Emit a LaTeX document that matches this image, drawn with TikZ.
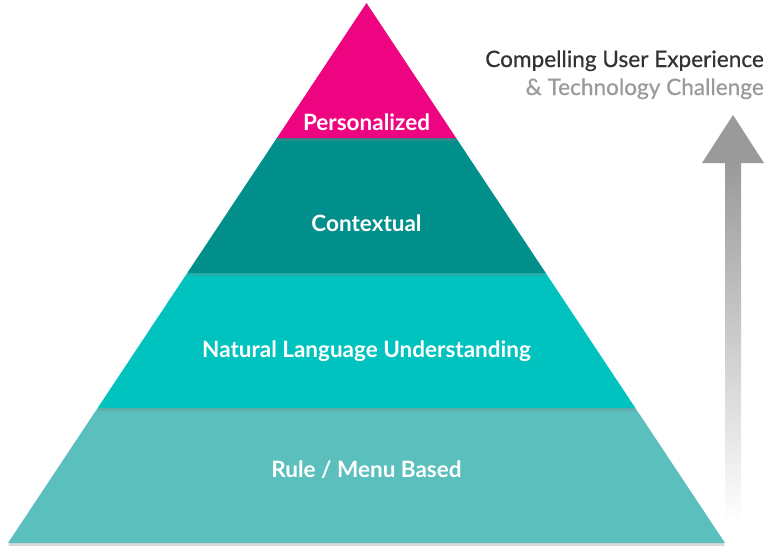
\documentclass[tikz,border=0pt]{standalone}
\usepackage{fontspec}
\setmainfont{Lato}
\usetikzlibrary{calc,shadows,positioning}
\definecolor{pyrpink}{HTML}{EE0480}
\definecolor{pyrdark}{HTML}{008F8B}
\definecolor{pyrmid}{HTML}{00C2BF}
\definecolor{pyrlight}{HTML}{5ABFBD}
\definecolor{headdark}{HTML}{333333}
\definecolor{headgray}{HTML}{9A9A9A}
\tikzset{
    band/.style={draw=none,drop shadow={shadow xshift=0pt,shadow yshift=-3pt,opacity=0.3}},
    bandlabel/.style={text=white,font=\bfseries\fontsize{22.5}{26}\selectfont,inner sep=0pt},
    headline/.style={inner sep=0pt,font=\fontsize{22.6}{26}\selectfont\addfontfeatures{FakeBold=0.6}},
}

\begin{document}
\begin{tikzpicture}[x=1pt,y=-1pt]
    \useasboundingbox (0,0) rectangle (780,554);
    \coordinate (apex) at (366.5,3);
    \coordinate (bl) at (8,543);
    \coordinate (br) at (725,543);
    \coordinate (l1) at ($(apex)!0.25!(bl)$);
    \coordinate (r1) at ($(apex)!0.25!(br)$);
    \coordinate (l2) at ($(apex)!0.5!(bl)$);
    \coordinate (r2) at ($(apex)!0.5!(br)$);
    \coordinate (l3) at ($(apex)!0.75!(bl)$);
    \coordinate (r3) at ($(apex)!0.75!(br)$);

    % bands, bottom first
    \fill[band,pyrlight] (l3) -- (r3) -- (br) -- (bl) -- cycle;
    \fill[band,pyrmid] (l2) -- (r2) -- (r3) -- (l3) -- cycle;
    \fill[band,pyrdark] (l1) -- (r1) -- (r2) -- (l2) -- cycle;
    \fill[band,pyrpink] (apex) -- (r1) -- (l1) -- cycle;

    \node[bandlabel] (pers) at (366.5,122) {Personalized};
    \node[bandlabel] (ctx) at (366.5,223) {Contextual};
    \node[bandlabel] (nlu) at (366.5,351) {Natural Language Understanding};
    \node[bandlabel] (rule) at (366.5,470) {Rule / Menu Based};

    % arrow
    \coordinate (tip) at (733,115);
    \coordinate (neck) at (733,163);
    \coordinate (tail) at (733,522);
    \shade[top color=headgray,bottom color=white] ($(neck)+(-8,0)$) rectangle ($(tail)+(8,0)$);
    \fill[headgray] (tip) -- ($(neck)+(31,0)$) -- ($(neck)+(-31,0)$) -- cycle;

    \node[headline,text=headdark,anchor=base east] (ux) at (764,67) {Compelling User Experience};
    \node[headline,text=headgray,anchor=base east] (tech) at (764,95) {\& Technology Challenge};
\end{tikzpicture}
\end{document}
